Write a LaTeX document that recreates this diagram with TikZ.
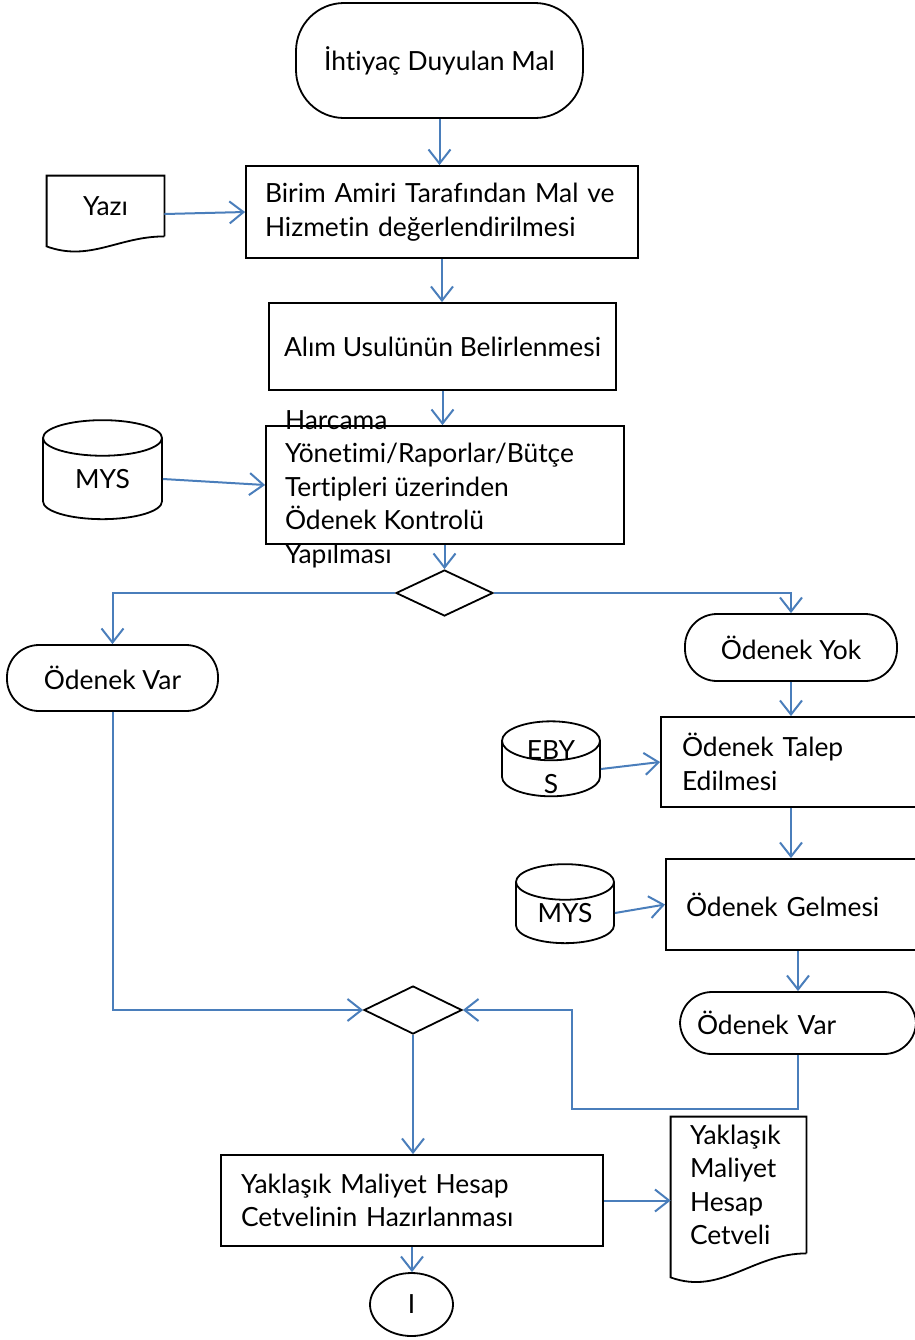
\documentclass[tikz,border=0pt]{standalone}
\usepackage{fontspec}
\setmainfont{Lato}[Ligatures=NoCommon]
\usetikzlibrary{shapes.geometric,arrows.meta}
\definecolor{flowblue}{HTML}{4A7EBB}
\newcommand{\DocWave}[2]{\draw[line width=0.9pt] (#1.south east) -- (#1.north east) -- (#1.north west) -- ([yshift=-#2]#1.south west) to[out=-20,in=180] (#1.south east);}

\begin{document}
\begin{tikzpicture}[x=0.5pt, y=-0.5pt, font=\fontsize{13.2}{16.75}\selectfont,
  box/.style = {draw, line width=0.9pt, rectangle, inner sep=0pt},
  term/.style = {draw, line width=0.9pt, rectangle, rounded corners=16pt, inner sep=0pt},
  dbase/.style = {draw, line width=0.9pt, cylinder, shape border rotate=90, aspect=0.65, inner sep=0pt},
  doc/.style = {rectangle, inner sep=0pt},
  dec/.style = {draw, line width=0.9pt, diamond, inner sep=0pt},
  flow/.style = {draw=flowblue, line width=1pt, -{Straight Barb[length=7pt,width=11pt]}}]

\useasboundingbox (0,0) rectangle (915,1340);

\node[term, rounded corners=24pt, minimum width=143.5pt, minimum height=57.5pt] (start) at (439.5, 60.5) {İhtiyaç Duyulan Mal};

\node[box, minimum width=196pt, minimum height=46pt, text width=177pt, align=left] (birim) at (442, 212) {Birim Amiri Tarafından Mal ve\\ Hizmetin değerlendirilmesi};
\node[doc, minimum width=58.5pt, minimum height=30pt] (yazi) at (105.5, 206) {Yazı};
\DocWave{yazi}{5pt}

\node[box, minimum width=173.5pt, minimum height=43.5pt] (alim) at (442.5, 346.5) {Alım Usulünün Belirlenmesi};

\node[box, minimum width=179pt, minimum height=59pt] (harcama) at (445, 485) {\smash{\raisebox{-5pt}{\parbox{160pt}{\raggedright Harcama\\ Yönetimi/Raporlar/Bütçe\\ Tertipleri üzerinden\\ Ödenek Kontrolü\\ Yapılması}}}};
\node[dbase, minimum width=59.5pt, minimum height=49.5pt] (mys) at (102.5, 479) {MYS};

\node[dec, minimum width=48.5pt, minimum height=23pt] (karar) at (444.5, 593) {};

\node[term, minimum width=105.5pt, minimum height=33pt] (varsol) at (112.5, 678) {Ödenek Var};
\node[term, minimum width=106pt, minimum height=33.5pt] (yok) at (791, 647.5) {Ödenek Yok};

\node[box, minimum width=134.5pt, minimum height=45pt, text width=113.5pt, align=left] (talep) at (795.5, 762) {Ödenek Talep\\ Edilmesi};
\node[dbase, minimum width=49pt, minimum height=37.5pt] (ebys) at (551, 769) {\smash{\raisebox{-2pt}{\parbox{30pt}{\centering EBY\\S}}}};

\node[box, minimum width=132pt, minimum height=45.5pt, text width=112pt, align=left] (gelme) at (798, 904.5) {Ödenek Gelmesi};
\node[dbase, minimum width=49pt, minimum height=39.5pt] (mysiki) at (565, 913) {MYS};

\node[term, minimum width=118pt, minimum height=31pt, text width=101pt, align=left] (varsag) at (798, 1023) {Ödenek Var};

\node[dec, minimum width=49pt, minimum height=24pt] (birles) at (413, 1010) {};
\coordinate (donus) at (572, 1109);

\node[box, minimum width=191pt, minimum height=45.5pt, text width=171pt, align=left] (yaklasik) at (412, 1200.5) {Yaklaşık Maliyet Hesap\\ Cetvelinin Hazırlanması};
\node[doc, minimum width=67.5pt, minimum height=68pt, text width=48.5pt, align=left] (cetvel) at (738.5, 1185) {Yaklaşık\\ Maliyet\\ Hesap\\ Cetveli};
\DocWave{cetvel}{12pt}

\node[draw, line width=0.9pt, ellipse, minimum width=41.5pt, minimum height=31.5pt, inner sep=0pt] (bag) at (411.5, 1304.5) {I};

% akış okları
\draw[flow] (start.south) -- (start.south |- birim.north);
\draw[flow] ([yshift=-4pt]yazi.east) -- (birim.west);
\draw[flow] (birim.south) -- (birim.south |- alim.north);
\draw[flow] (alim.south) -- (alim.south |- harcama.north);
\draw[flow] (mys.east) -- (harcama.west);
\draw[flow] (harcama.south -| karar.north) -- (karar.north);
\draw[flow] (karar.west) -| (varsol.north);
\draw[flow] (karar.east) -| (yok.north);
\draw[flow] (yok.south) -- (yok.south |- talep.north);
\draw[flow] (ebys.east) -- (talep.west);
\draw[flow] (yok.south |- talep.south) -- (yok.south |- gelme.north);
\draw[flow] (mysiki.east) -- (gelme.west);
\draw[flow] (gelme.south) -- (varsag.north);
\draw[flow] (varsol.south) |- (birles.west);
\draw[flow] (varsag.south) |- (donus) |- (birles.east);
\draw[flow] (birles.south) -- (birles.south |- yaklasik.north);
\draw[flow] (yaklasik.east) -- (yaklasik.east -| cetvel.west);
\draw[flow] (yaklasik.south) -- (yaklasik.south |- bag.north);

\end{tikzpicture}
\end{document}
